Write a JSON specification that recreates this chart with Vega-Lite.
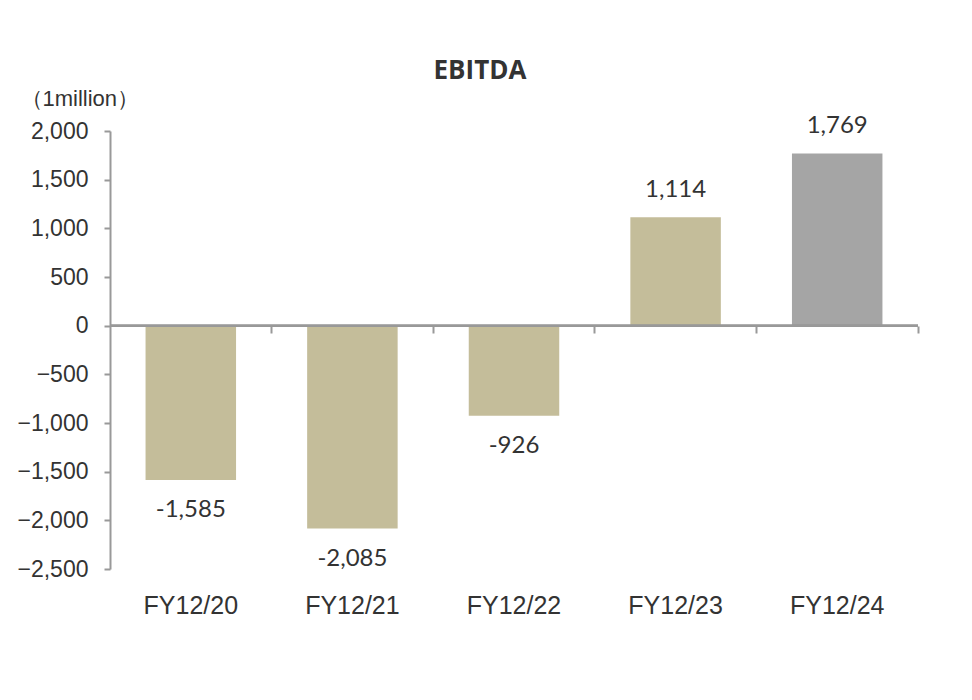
{
  "$schema": "https://vega.github.io/schema/vega-lite/v6.json",
  "autosize": "none",
  "padding": {"left": 110, "top": 131, "right": 54, "bottom": 131},
  "width": 808,
  "height": 438,
  "background": "white",
  "config": {"view": {"stroke": null}},
  "title": {
    "text": "EBITDA",
    "font": "Open Sans",
    "fontSize": 26,
    "fontWeight": "bold",
    "color": "#333333",
    "anchor": "middle",
    "dx": -34,
    "offset": 3
  },
  "data": {
    "values": [
      {"fy": "FY12/20", "value": -1585, "kind": "actual"},
      {"fy": "FY12/21", "value": -2085, "kind": "actual"},
      {"fy": "FY12/22", "value": -926, "kind": "actual"},
      {"fy": "FY12/23", "value": 1114, "kind": "actual"},
      {"fy": "FY12/24", "value": 1769, "kind": "forecast"}
    ]
  },
  "encoding": {
    "x": {
      "field": "fy",
      "type": "nominal",
      "sort": null,
      "scale": {"paddingInner": 0.44, "paddingOuter": 0.22},
      "axis": {
        "title": null,
        "labelAngle": 0,
        "labelFont": "Liberation Sans",
        "labelFontSize": 25,
        "labelColor": "#333333",
        "domain": false,
        "ticks": true,
        "bandPosition": 1.393,
        "tickSize": 7,
        "tickColor": "#999999",
        "tickWidth": 2,
        "offset": -243,
        "labelPadding": 260
      }
    },
    "y": {
      "field": "value",
      "type": "quantitative",
      "scale": {"domain": [-2500, 2000], "nice": false, "zero": false},
      "axis": {
        "values": [-2500, -2000, -1500, -1000, -500, 0, 500, 1000, 1500, 2000],
        "format": ",.0f",
        "grid": false,
        "domainColor": "#999999",
        "domainWidth": 2,
        "tickColor": "#999999",
        "tickWidth": 2,
        "tickSize": 6,
        "labelPadding": 16,
        "labelFont": "Liberation Sans",
        "labelFontSize": 23,
        "labelColor": "#333333",
        "title": "（1million）",
        "titleAngle": 0,
        "titleFont": "Liberation Sans",
        "titleFontSize": 22,
        "titleFontWeight": "normal",
        "titleColor": "#333333",
        "titleAlign": "left",
        "titleBaseline": "middle",
        "titleX": -90,
        "titleY": -33
      }
    }
  },
  "layer": [
    {
      "mark": {"type": "bar"},
      "encoding": {
        "color": {
          "field": "kind",
          "type": "nominal",
          "scale": {"domain": ["actual", "forecast"], "range": ["#C4BD9A", "#A5A5A5"]},
          "legend": null
        }
      }
    },
    {
      "mark": {"type": "rule", "color": "#999999", "strokeWidth": 2},
      "encoding": {"x": {"value": 0}, "x2": {"value": 808}, "y": {"datum": 0}}
    },
    {
      "transform": [{"filter": "datum.value >= 0"}],
      "mark": {"type": "text", "dy": -27, "baseline": "middle", "font": "Lato", "fontSize": 24, "color": "#333333", "text": {"expr": "replace(format(datum.value, ','), '\u2212', '-')"}}
    },
    {
      "transform": [{"filter": "datum.value < 0"}],
      "mark": {"type": "text", "dy": 30, "baseline": "middle", "font": "Lato", "fontSize": 24, "color": "#333333", "text": {"expr": "replace(format(datum.value, ','), '\u2212', '-')"}}
    }
  ]
}
